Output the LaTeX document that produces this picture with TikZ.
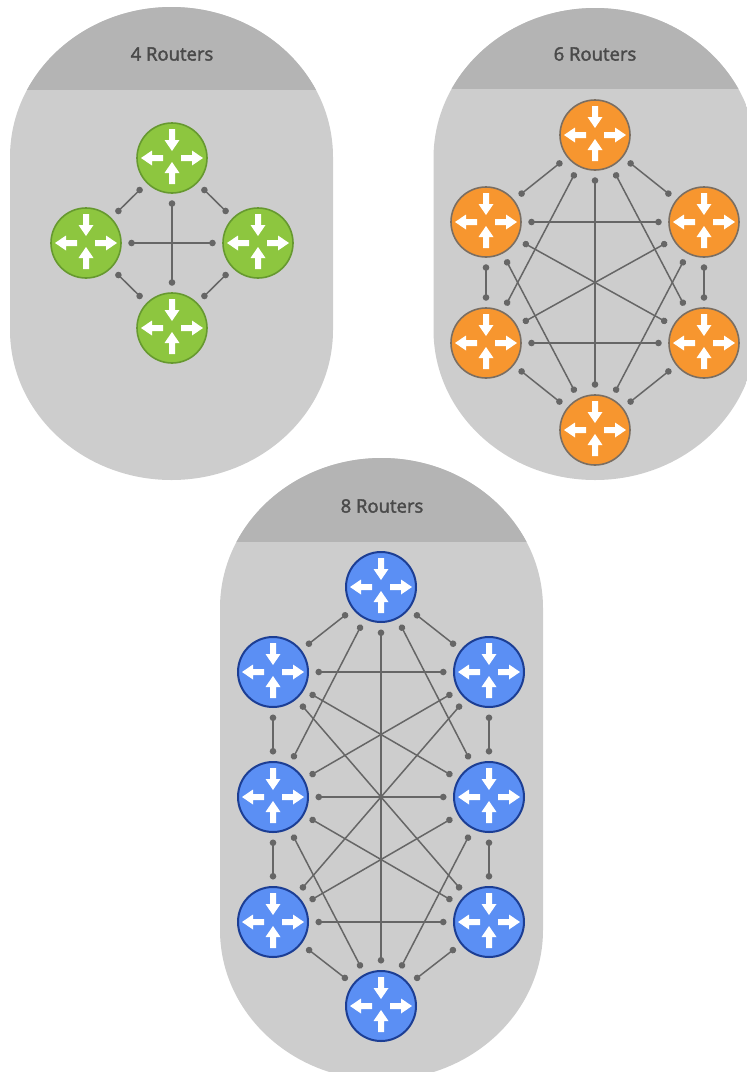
\documentclass[tikz,border=0pt]{standalone}
\usepackage{fontspec}
\setmainfont{Open Sans}
\newfontfamily\titlefont{Open Sans}[FakeBold=2.2]
\usetikzlibrary{arrows.meta}

\definecolor{podgray}{HTML}{CDCDCD}
\definecolor{headgray}{HTML}{B4B4B4}
\definecolor{titlegray}{HTML}{4A4A4A}
\definecolor{linkgray}{HTML}{666666}
\definecolor{greenfill}{HTML}{8DC63F}
\definecolor{greenline}{HTML}{66992F}
\definecolor{orangefill}{HTML}{F7962F}
\definecolor{orangeline}{HTML}{7A6E62}
\definecolor{bluefill}{HTML}{5B8FF4}
\definecolor{blueline}{HTML}{1C3E94}

\newcommand{\routerpod}[4]{%
  \begin{scope}
    \clip (#1-161.5,#2) arc[start angle=180, end angle=0, x radius=161.5pt, y radius=150pt]
      -- (#1+161.5,#3) arc[start angle=0, end angle=-180, x radius=161.5pt, y radius=150pt] -- cycle;
    \fill[podgray] (#1-170,#2-160) rectangle (#1+170,#3+160);
    \fill[headgray] (#1-170,#2-160) rectangle (#1+170,#4);
  \end{scope}}

\begin{document}
\begin{tikzpicture}[x=1pt, y=-1pt,
  router/.style={circle, minimum size=70pt, inner sep=0pt, line width=1.6pt},
  green router/.style={router, fill=greenfill, draw=greenline},
  orange router/.style={router, fill=orangefill, draw=orangeline},
  blue router/.style={router, fill=bluefill, draw=blueline, line width=2pt},
  link/.style={draw=linkgray, line width=1.5pt, {Circle[length=6.5pt]}-{Circle[length=6.5pt]},
    shorten <=6.5pt, shorten >=6.5pt},
  title/.style={text=titlegray, font=\titlefont\fontsize{18.5}{22}\selectfont},
  icon/.pic={
    \foreach \dx/\dy/\a in {0/-29/-90, 0/26/90, -9/0/180, 9/0/0}
      \fill[white, shift={(\dx,\dy)}, rotate=\a] (0,-3) -- (11,-3) -- (11,-7.5)
        -- (22,0) -- (11,7.5) -- (11,3) -- (0,3) -- cycle;
  }
]
\useasboundingbox (0,0) rectangle (747,1072);

\routerpod{171.5}{157}{330}{90}
\routerpod{595}{158}{330}{89}
\routerpod{381.5}{608}{930}{542}

\node[title] (t4) at (172,54) {4 Routers};
\node[title] (t6) at (595,54) {6 Routers};
\node[title] (t8) at (382,506) {8 Routers};

\node[green router] (a1) at (172,158) {};
\node[green router] (a2) at (86,243) {};
\node[green router] (a3) at (258,243) {};
\node[green router] (a4) at (172,328) {};

\node[orange router] (b1) at (595,135) {};
\node[orange router] (b2) at (486,222) {};
\node[orange router] (b3) at (704,222) {};
\node[orange router] (b4) at (486,343) {};
\node[orange router] (b5) at (704,343) {};
\node[orange router] (b6) at (595,430) {};

\node[blue router] (c1) at (381,587) {};
\node[blue router] (c2) at (273,672) {};
\node[blue router] (c3) at (489,672) {};
\node[blue router] (c4) at (273,797) {};
\node[blue router] (c5) at (489,797) {};
\node[blue router] (c6) at (273,922) {};
\node[blue router] (c7) at (489,922) {};
\node[blue router] (c8) at (381,1006) {};

\foreach \n in {a1,a2,a3,a4,b1,b2,b3,b4,b5,b6,c1,c2,c3,c4,c5,c6,c7,c8}
  \pic at (\n) {icon};

\foreach \i [evaluate=\i as \k using int(\i+1)] in {1,...,3}
  \foreach \j in {\k,...,4}
    \draw[link] (a\i) -- (a\j);

\foreach \i [evaluate=\i as \k using int(\i+1)] in {1,...,5}
  \foreach \j in {\k,...,6}
    \draw[link] (b\i) -- (b\j);

\foreach \p/\q in {c1/c2, c1/c3, c1/c4, c1/c5, c1/c8, c2/c3, c2/c4, c2/c5, c2/c7,
    c3/c4, c3/c5, c3/c6, c4/c5, c4/c6, c4/c7, c4/c8, c5/c6, c5/c7, c5/c8,
    c6/c7, c6/c8, c7/c8}
  \draw[link] (\p) -- (\q);
\end{tikzpicture}
\end{document}
